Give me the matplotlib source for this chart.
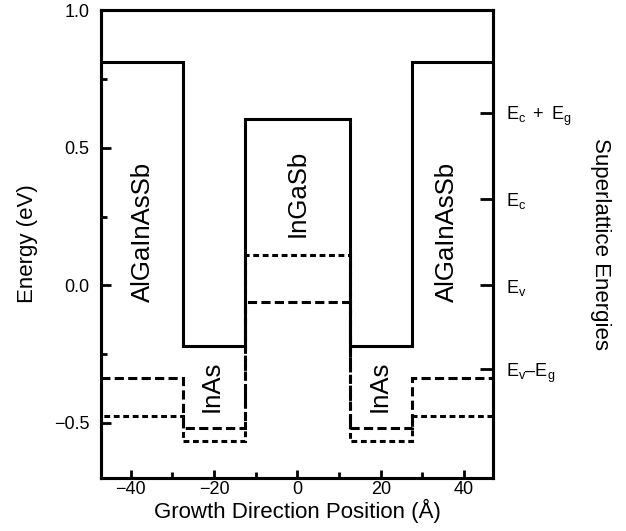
import numpy as np
import matplotlib
matplotlib.use('Agg')
import matplotlib.pyplot as plt
from matplotlib.ticker import MultipleLocator

plt.rcParams['font.family'] = ['Liberation Sans', 'DejaVu Sans']
plt.rcParams['mathtext.fontset'] = 'custom'
plt.rcParams['mathtext.rm'] = 'Liberation Sans'
plt.rcParams['mathtext.it'] = 'Liberation Sans'

# layer boundaries along growth direction (Angstrom)
edges = [-60, -27.5, -12.5, 12.5, 27.5, 60]
layers = ['AlGaInAsSb', 'InAs', 'InGaSb', 'InAs', 'AlGaInAsSb']

# band edge energies per layer (eV)
conduction = [0.81, -0.22, 0.605, -0.22, 0.81]
band_long = [-0.337, -0.518, -0.06, -0.518, -0.337]
band_short = [-0.475, -0.565, 0.11, -0.565, -0.475]

# label positions
label_x = [-37.1, -20.6, 0.0, 19.7, 35.8]
label_y = [0.196, -0.366, 0.335, -0.366, 0.196]

# superlattice energies on right axis
sl_values = [0.627, 0.315, 0.0, -0.305]
sl_labels = [r'$\mathrm{E_c\ +\ E_g}$', r'$\mathrm{E_c}$', r'$\mathrm{E_v}$',
             r'$\mathrm{E_v}$' + '\u2013' + r'$\mathrm{E_g}$']

fig = plt.figure(figsize=(6.26, 5.31), dpi=100)
ax = fig.add_axes([0.161, 0.0998, 0.627, 0.881])

lw = 2.2
ax.stairs(band_long, edges, baseline=None, color='black', lw=lw,
          linestyle=(0, (3.0, 1.4)))
ax.stairs(band_short, edges, baseline=None, color='black', lw=lw,
          linestyle=(0, (1.9, 1.2)))
ax.stairs(conduction, edges, baseline=None, color='black', lw=lw)

for name, x, y in zip(layers, label_x, label_y):
    ax.text(x, y, name, rotation=90, ha='center', va='center', fontsize=18.5)

ax.set_xlim(-47.2, 47)
ax.set_ylim(-0.7, 1.0)
ax.xaxis.set_major_locator(MultipleLocator(20))
ax.xaxis.set_minor_locator(MultipleLocator(10))
ax.yaxis.set_major_locator(MultipleLocator(0.5))
ax.yaxis.set_minor_locator(MultipleLocator(0.25))
ax.tick_params(which='both', direction='in', width=2, labelsize=13)
ax.tick_params(axis='y', which='major', length=7, pad=8)
ax.tick_params(axis='y', which='minor', length=4)
ax.tick_params(axis='x', which='major', length=6, pad=2)
ax.tick_params(axis='x', which='minor', length=4)
for s in ax.spines.values():
    s.set_linewidth(2.2)

ax.set_xlabel('Growth Direction Position (\u00c5)', fontsize=16, labelpad=1)
ax.set_ylabel('Energy (eV)', fontsize=16, labelpad=12)

ax2 = ax.twinx()
ax2.set_ylim(ax.get_ylim())
ax2.set_yticks(sl_values)
ax2.set_yticklabels(sl_labels)
ax2.tick_params(axis='y', direction='in', length=9.5, width=2, labelsize=13, pad=9)
ax2.set_ylabel('Superlattice Energies', fontsize=16, rotation=270, labelpad=28)
for s in ax2.spines.values():
    s.set_linewidth(2.2)

fig.savefig('out.png', dpi=100)
